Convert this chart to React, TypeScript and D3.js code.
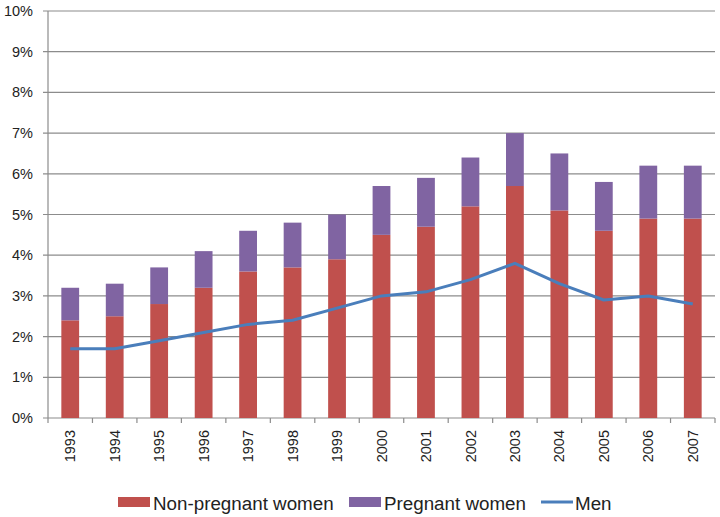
import React from "react";
import * as d3 from "d3";

const years = ["1993","1994","1995","1996","1997","1998","1999","2000","2001","2002","2003","2004","2005","2006","2007"];
const nonPregnant = [2.4,2.5,2.8,3.2,3.6,3.7,3.9,4.5,4.7,5.2,5.7,5.1,4.6,4.9,4.9];
const pregnant = [0.8,0.8,0.9,0.9,1.0,1.1,1.1,1.2,1.2,1.2,1.3,1.4,1.2,1.3,1.3];
const men = [1.7,1.7,1.9,2.1,2.3,2.4,2.7,3.0,3.1,3.4,3.8,3.3,2.9,3.0,2.8];
const yTicks = [0,1,2,3,4,5,6,7,8,9,10];

const W = 720, H = 517;
const left = 48, right = 715, top = 11, bottom = 418;
const FONT = "'Liberation Sans', Arial, sans-serif";
const RED = "#C0504D", PURPLE = "#8064A2", BLUE = "#4A7EBB", GRID = "#8c8c8c";

export default function App() {
  const x = d3.scaleBand<string>().domain(years).range([left, right]).paddingInner(0.6).paddingOuter(0.3);
  const xb = d3.scaleBand<string>().domain(years).range([left, right]);
  const y = d3.scaleLinear().domain([0, 10]).range([bottom, top]);
  const line = d3.line<number>().x((_, i) => (xb(years[i]) as number) + xb.bandwidth() / 2).y(d => y(d));
  return (
    <svg width={W} height={H} style={{ position: "absolute", left: 0, top: 0, background: "#fff" }}>
      {yTicks.map(t => (
        <g key={t}>
          <line x1={left - 5} x2={right} y1={y(t)} y2={y(t)} stroke={GRID} strokeWidth={1.2} />
          <text x={33} y={y(t)} dy="0.35em" textAnchor="end" fontFamily={FONT} fontSize={14.5} fill="#222">{t}%</text>
        </g>
      ))}
      <line x1={left} x2={left} y1={top} y2={bottom} stroke={GRID} strokeWidth={1.2} />
      {years.map((yr, i) => (
        <g key={yr}>
          <rect x={x(yr)} width={x.bandwidth()} y={y(nonPregnant[i])} height={y(0) - y(nonPregnant[i])} fill={RED} />
          <rect x={x(yr)} width={x.bandwidth()} y={y(nonPregnant[i] + pregnant[i])} height={y(nonPregnant[i]) - y(nonPregnant[i] + pregnant[i])} fill={PURPLE} />
        </g>
      ))}
      {[...years.map(yr => xb(yr) as number), right].map((xx, i) => (
        <line key={i} x1={xx} x2={xx} y1={bottom} y2={bottom + 5} stroke={GRID} strokeWidth={1.2} />
      ))}
      <path d={line(men) || ""} fill="none" stroke={BLUE} strokeWidth={3} strokeLinejoin="round" />
      {years.map(yr => {
        const cx = (xb(yr) as number) + xb.bandwidth() / 2;
        return (
          <text key={yr} transform={`translate(${cx},${bottom + 12}) rotate(-90)`} textAnchor="end" dy="0.35em" fontFamily={FONT} fontSize={14.5} fill="#222">{yr}</text>
        );
      })}
      <g fontFamily={FONT} fontSize={18.8} fill="#222">
        <rect x={118} y={497} width={32} height={10} fill={RED} />
        <text x={153} y={503} dy="0.35em">Non-pregnant women</text>
        <rect x={349} y={497} width={32} height={10} fill={PURPLE} />
        <text x={384} y={503} dy="0.35em">Pregnant women</text>
        <line x1={541} x2={573} y1={502} y2={502} stroke={BLUE} strokeWidth={3} />
        <text x={575} y={503} dy="0.35em">Men</text>
      </g>
    </svg>
  );
}
